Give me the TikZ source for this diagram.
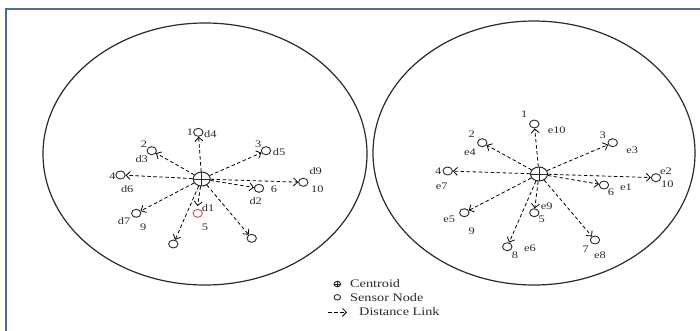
\documentclass[tikz,border=0pt]{standalone}
\usepackage{fontspec}
\setmainfont{Liberation Serif}[FakeStretch=1.24]
\usetikzlibrary{shapes.geometric,arrows.meta}
\definecolor{framecol}{HTML}{4A6D99}
\definecolor{inkcol}{HTML}{2A2A2A}
\definecolor{redcol}{HTML}{D04848}
\tikzset{
  field/.style={draw=inkcol,line width=1.2pt},
  sensor/.style={ellipse,draw=inkcol,line width=0.9pt,minimum width=9.4pt,minimum height=8pt,inner sep=0pt},
  redsensor/.style={sensor,draw=redcol},
  centroid/.style={ellipse,draw=inkcol,line width=1pt,minimum width=17pt,minimum height=14pt,inner sep=0pt,
    path picture={\draw[inkcol,line width=0.9pt] (path picture bounding box.north) -- (path picture bounding box.south)
      (path picture bounding box.west) -- (path picture bounding box.east);}},
  lbl/.style={inner sep=0pt,text=inkcol,font=\fontsize{10}{10}\selectfont},
  leg/.style={inner sep=0pt,text=inkcol,font=\fontsize{11.5}{11.5}\selectfont,anchor=west},
  link/.style={draw=black,line width=0.8pt,dash pattern=on 3.5pt off 2.5pt,-{Straight Barb[length=4pt,width=8pt]}}
}
\begin{document}
\begin{tikzpicture}[x=1pt,y=-1pt]
\path[use as bounding box,clip] (0,0) rectangle (700,330);
\fill[white] (0,0) rectangle (700,330);
% frame (only left and top visible)
\draw[framecol,line width=1.6pt] (705,9) -- (5.7,9) -- (5.7,335);
% fields
\draw[field] (205,154) ellipse [x radius=162, y radius=131];
\draw[field] (534,153) ellipse [x radius=161, y radius=132];

% ---------- left field ----------
\node[centroid] (cL) at (201.7,179) {};
\node[sensor] (l1) at (198.3,132.3) {};
\node[sensor] (l2) at (151.7,150.7) {};
\node[sensor] (l3) at (266,150.7) {};
\node[sensor] (l4) at (120.5,175) {};
\node[sensor] (l10) at (303.3,182.3) {};
\node[sensor] (l6) at (259,188.3) {};
\node[redsensor] (l5) at (197.7,213.3) {};
\node[sensor] (l9) at (136.2,213.3) {};
\node[sensor] (lbl8) at (173.3,244) {};
\node[sensor] (lbr7) at (251.7,238.3) {};
\coordinate (l5tip) at (197.5,206);

\foreach \n in {l1,l2,l3,l4,l10,l6,l9,lbl8,lbr7}
  \draw[link] (cL) -- (\n);
\draw[link] (cL) -- (l5tip);

\node[lbl] (tl1) at (190,132.3) {1};
\node[lbl] (tld4) at (210.3,133.7) {d4};
\node[lbl] (tl2) at (144,144) {2};
\node[lbl] (tld3) at (141.7,158.7) {d3};
\node[lbl] (tl3) at (258.3,144) {3};
\node[lbl] (tld5) at (279,152.3) {d5};
\node[lbl] (tl4) at (112.5,176) {4};
\node[lbl] (tld6) at (127.2,189.3) {d6};
\node[lbl] (tld9) at (315.7,171) {d9};
\node[lbl] (tl10) at (317.3,189) {10};
\node[lbl] (tl6) at (274,189) {6};
\node[lbl] (tld2) at (255.7,201) {d2};
\node[lbl] (tld1) at (208,207.7) {d1};
\node[lbl] (tl5) at (205,227) {5};
\node[lbl] (tl9) at (143.3,227) {9};
\node[lbl] (tld7) at (124.1,221) {d7};

% ---------- right field ----------
\node[centroid] (cR) at (539,174) {};
\node[sensor] (r1) at (534.3,124) {};
\node[sensor] (r2) at (482.3,142.7) {};
\node[sensor] (r3) at (612.7,142.7) {};
\node[sensor] (r4) at (447.7,171) {};
\node[sensor] (r10) at (656,177.7) {};
\node[sensor] (r6) at (604,185) {};
\node[sensor] (r5) at (534.3,212.7) {};
\node[sensor] (r9) at (464.3,212.7) {};
\node[sensor] (r8) at (507.3,246.7) {};
\node[sensor] (r7) at (595,240) {};

\foreach \n in {r1,r2,r3,r4,r10,r6,r5,r9,r8,r7}
  \draw[link] (cR) -- (\n);

\node[lbl] (tr1) at (524.3,114) {1};
\node[lbl] (tre10) at (556.7,130) {e10};
\node[lbl] (tr2) at (471.7,134) {2};
\node[lbl] (tre4) at (470,152.3) {e4};
\node[lbl] (tr3) at (602.7,135.3) {3};
\node[lbl] (tre3) at (632.3,150.7) {e3};
\node[lbl] (tr4) at (438.3,171) {4};
\node[lbl] (tre7) at (441.7,186.7) {e7};
\node[lbl] (tre2) at (666,171) {e2};
\node[lbl] (tr10) at (667.3,184) {10};
\node[lbl] (tr6) at (611,192.7) {6};
\node[lbl] (tre1) at (626,187.3) {e1};
\node[lbl] (tre9) at (546.7,206.7) {e9};
\node[lbl] (tr5) at (541.7,219) {5};
\node[lbl] (tre5) at (449.3,219.3) {e5};
\node[lbl] (tr9) at (471.7,231.7) {9};
\node[lbl] (tr8) at (515,255) {8};
\node[lbl] (tre6) at (530,248.3) {e6};
\node[lbl] (tr7) at (585.7,249) {7};
\node[lbl] (tre8) at (600,255.7) {e8};

% ---------- legend ----------
\node[ellipse,draw=inkcol,line width=1pt,minimum width=6.5pt,minimum height=5.5pt,inner sep=0pt,
  path picture={\draw[inkcol,line width=0.8pt] (path picture bounding box.north) -- (path picture bounding box.south)
      (path picture bounding box.west) -- (path picture bounding box.east);}] (legC) at (337.3,284) {};
\node[leg] (legCt) at (350,284) {Centroid};
\node[sensor,minimum width=6.5pt,minimum height=5.5pt] (legS) at (337.3,297.3) {};
\node[leg] (legSt) at (350,297.3) {Sensor Node};
\coordinate (legA1) at (328,312.3);
\coordinate (legA2) at (347,312.3);
\draw[link] (legA1) -- (legA2);
\node[leg] (legAt) at (359,312) {Distance Link};
\end{tikzpicture}
\end{document}
